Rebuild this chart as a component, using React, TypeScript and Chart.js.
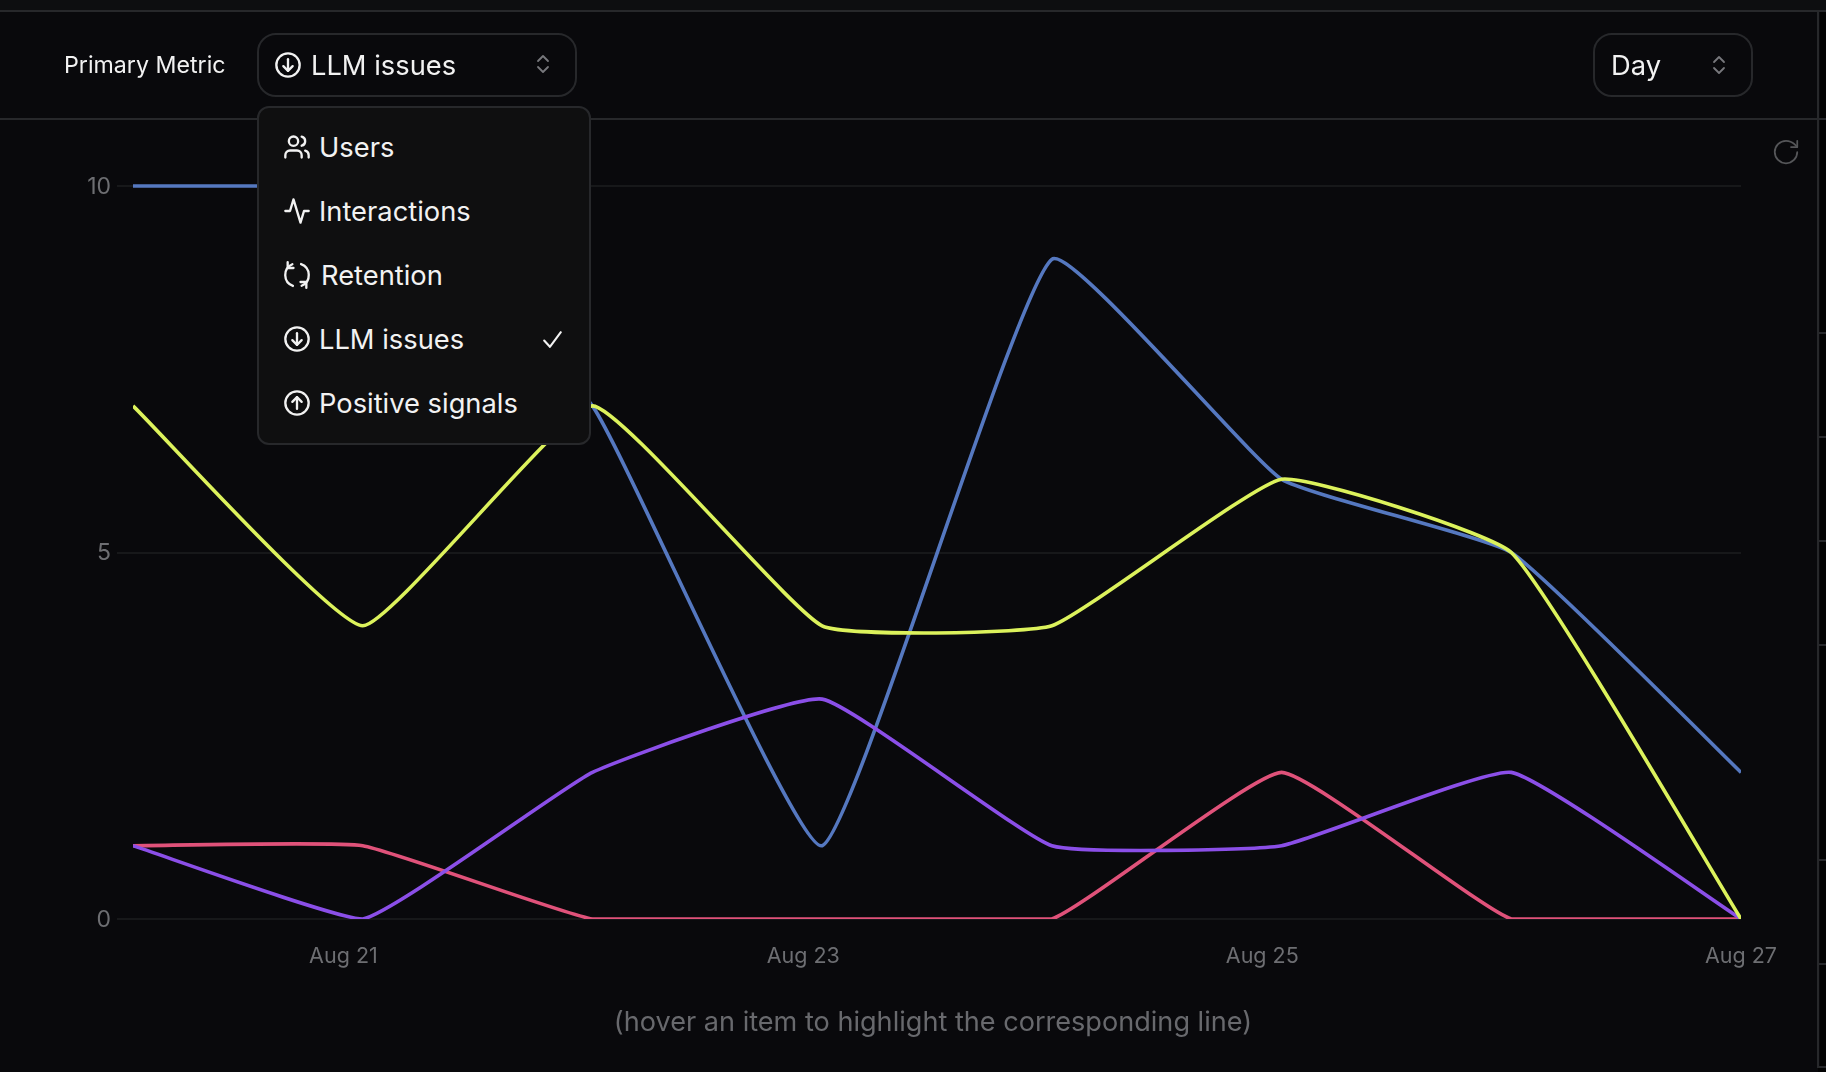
import React, { useEffect, useRef } from "react";
import { Chart, registerables } from "chart.js";

Chart.register(...registerables);

const categories = ["Aug 20", "Aug 21", "Aug 22", "Aug 23", "Aug 24", "Aug 25", "Aug 26", "Aug 27"];
const blueValues = [10, 10, 7, 1, 9, 6, 5, 2];
const yellowValues = [7, 4, 7, 4, 4, 6, 5, 0];
const pinkValues = [1, 1, 0, 0, 0, 2, 0, 0];
const purpleValues = [1, 0, 2, 3, 1, 1, 2, 0];
const yTicks = [0, 5, 10];
const xTickLabels = ["Aug 21", "Aug 23", "Aug 25", "Aug 27"];
const xTickValues = [0.916, 2.918, 4.916, 7];
const menuItems = ["Users", "Interactions", "Retention", "LLM issues", "Positive signals"];
const sideTicks = [332, 436, 540, 644, 859, 963];

const FONT = "Inter, sans-serif";
const BG = "#09090c";
const BORDER = "#27282b";

const toPoints = (vals: number[]) => vals.map((y, x) => ({ x, y, name: categories[x] }));

function Icon({ name, x, y, size = 28, color = "#f2f2f2", sw = 2 }: any) {
  const paths: Record<string, React.ReactNode> = {
    users: (<>
      <path d="M16 21v-2a4 4 0 0 0-4-4H6a4 4 0 0 0-4 4v2" /><circle cx="9" cy="7" r="4" />
      <path d="M22 21v-2a4 4 0 0 0-3-3.87" /><path d="M16 3.13a4 4 0 0 1 0 7.75" /></>),
    activity: <path d="M22 12h-4l-3 10L9 2l-3 10H2" />,
    refresh: (<>
      <path d="M8 2.8A10 10 0 0 0 8.5 21.4" /><path d="M4 1v5h5" />
      <path d="M16 21.2A10 10 0 0 0 15.5 2.6" /><path d="M20 23v-5h-5" /></>),
    down: (<><circle cx="12" cy="12" r="10" /><path d="M12 7v10" /><path d="m8 13 4 4 4-4" /></>),
    up: (<><circle cx="12" cy="12" r="10" /><path d="m16 11-4-4-4 4" /><path d="M12 17V7" /></>),
    updown: (<><path d="m7 15 5 5 5-5" /><path d="m7 9 5-5 5 5" /></>),
    check: <path d="M20 5 9.5 19 4 13" />,
    rotate: (<><path d="M21 12a9 9 0 1 1-9-9c2.52 0 4.93 1 6.74 2.74L21 8" /><path d="M21 3v5h-5" /></>),
  };
  return (
    <svg width={size} height={size} viewBox="0 0 24 24" fill="none" stroke={color} strokeWidth={sw}
      strokeLinecap="round" strokeLinejoin="round"
      style={{ position: "absolute", left: x, top: y, zIndex: 5 }}>
      {paths[name]}
    </svg>
  );
}

function Txt({ x, y, size, color, children, center }: any) {
  return (
    <div style={{
      position: "absolute", left: x, top: y, transform: center ? "translate(-50%,-50%)" : "translateY(-50%)",
      fontFamily: FONT, fontSize: size, color, whiteSpace: "nowrap", lineHeight: 1, zIndex: 5,
    }}>{children}</div>
  );
}

function Box({ x, y, w, h, r, bg }: any) {
  return <div style={{
    position: "absolute", left: x, top: y, width: w, height: h, boxSizing: "border-box",
    border: `2px solid ${BORDER}`, borderRadius: r, background: bg, zIndex: 4,
  }} />;
}

function Rule({ x, y, w, h, c = BORDER }: any) {
  return <div style={{ position: "absolute", left: x, top: y, width: w, height: h, background: c, zIndex: 1 }} />;
}

export default function App() {
  const ref = useRef<HTMLCanvasElement>(null);
  useEffect(() => {
    const line = (label: string, vals: number[], color: string, order: number) => ({
      label, data: toPoints(vals), borderColor: color, borderWidth: 3.6, tension: 0.12, order,
      pointRadius: 0, fill: false, borderCapStyle: "butt" as const,
      clip: { left: 0, right: 0, top: 4, bottom: 0 },
    });
    const chart = new Chart(ref.current!, {
      type: "line",
      data: {
        datasets: [
          line("Yellow", yellowValues, "#dcf25c", 1),
          line("Purple", purpleValues, "#8b4fe8", 2),
          line("Pink", pinkValues, "#e0527a", 3),
          line("Blue", blueValues, "#5578c0", 4),
        ],
      },
      options: {
        animation: false,
        responsive: false,
        layout: { padding: { top: 186, right: 85, bottom: 93, left: 0 } },
        plugins: { legend: { display: false }, tooltip: { enabled: false } },
        scales: {
          x: {
            type: "linear", min: 0, max: 7,
            border: { display: false },
            grid: { display: false, drawTicks: false },
            afterBuildTicks: (s: any) => { s.ticks = xTickValues.map((value) => ({ value })); },
            afterFit: (s: any) => { s.height = 60; },
            ticks: {
              maxRotation: 0, autoSkip: false, padding: 25, color: "#6d6e72",
              font: { family: FONT, size: 21.5 },
              callback: (v: any) => xTickLabels[xTickValues.indexOf(Number(v))] ?? "",
            },
          },
          y: {
            min: 0, max: 10,
            border: { display: false },
            grid: { color: "#17181a", lineWidth: 2, tickLength: 16, tickColor: "#17181a" },
            afterBuildTicks: (s: any) => { s.ticks = yTicks.map((value) => ({ value })); },
            afterFit: (s: any) => { s.width = 133; },
            ticks: { padding: 6, labelOffset: 1, color: "#6d6e72", font: { family: FONT, size: 23 } },
          },
        },
      },
    } as any);
    return () => chart.destroy();
  }, []);

  return (
    <div style={{ position: "fixed", left: 0, top: 0, width: 1826, height: 1072, background: BG, overflow: "hidden" }}>
      <Rule x={0} y={0} w={1826} h={10} c="#0d0e10" />
      <Rule x={1820} y={12} w={6} h={1060} c="#030303" />
      <Rule x={1818} y={1068} w={8} h={4} c="#030303" />
      <Rule x={0} y={10} w={1826} h={2} />
      <Rule x={0} y={118} w={1826} h={2} />
      <Rule x={1817} y={10} w={2} h={1058} />
      <Rule x={1817} y={1066} w={9} h={2} />
      {sideTicks.map((y) => <Rule key={y} x={1819} y={y} w={7} h={2} />)}
      <canvas ref={ref} width={1826} height={1072}
        style={{ position: "absolute", left: 0, top: 0, width: 1826, height: 1072, zIndex: 2 }} />

      <Txt x={64} y={66} size={23.2} color="#f2f2f2">Primary Metric</Txt>
      <Box x={257} y={33} w={320} h={64} r={19} />
      <Icon name="down" x={274} y={51} />
      <Txt x={311} y={66} size={27.3} color="#f2f2f2">{menuItems[3]}</Txt>
      <Icon name="updown" x={531} y={52} size={24} color="#77787c" sw={1.8} />

      <Box x={1593} y={33} w={160} h={64} r={19} />
      <Txt x={1611} y={66} size={27.3} color="#f2f2f2">Day</Txt>
      <Icon name="updown" x={1707} y={53} size={24} color="#77787c" sw={1.8} />
      <Icon name="rotate" x={1771} y={137} size={30} color="#555659" sw={1.4} />

      <Box x={257} y={106} w={334} h={339} r={12} bg="#0f0f10" />
      <Icon name="users" x={283} y={133} />
      <Txt x={319} y={148} size={27.3} color="#f2f2f2">{menuItems[0]}</Txt>
      <Icon name="activity" x={283} y={197} />
      <Txt x={319} y={212} size={27.3} color="#f2f2f2">{menuItems[1]}</Txt>
      <Icon name="refresh" x={283} y={261} />
      <Txt x={321} y={276} size={27.3} color="#f2f2f2">{menuItems[2]}</Txt>
      <Icon name="down" x={283} y={325} />
      <Txt x={319} y={340} size={27.3} color="#f2f2f2">{menuItems[3]}</Txt>
      <Icon name="check" x={540} y={327} size={25} />
      <Icon name="up" x={283} y={389} />
      <Txt x={319} y={404} size={27.3} color="#f2f2f2">{menuItems[4]}</Txt>

      <Txt x={933} y={1022} size={27.1} color="#68696d" center>(hover an item to highlight the corresponding line)</Txt>
    </div>
  );
}
